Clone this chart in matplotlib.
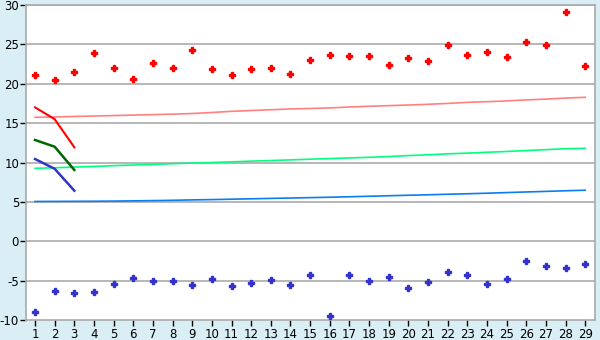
import matplotlib
matplotlib.use("Agg")
import matplotlib.pyplot as plt
import numpy as np

plt.rcParams["axes.unicode_minus"] = False

# x positions 1..29
x = list(range(1, 30))

upper_pts = [21.07, 20.43, 21.45, 23.86, 21.96, 20.56, 22.59, 21.96, 24.24, 21.83,
             21.07, 21.83, 21.96, 21.20, 22.97, 23.61, 23.48, 23.48, 22.34, 23.23,
             22.85, 24.88, 23.61, 23.99, 23.36, 25.26, 24.88, 29.07, 22.21]

lower_pts = [-9.02, -6.36, -6.61, -6.48, -5.47, -4.70, -5.09, -5.09, -5.60, -4.83,
             -5.72, -5.34, -4.96, -5.60, -4.32, -9.53, -4.32, -5.09, -4.58, -5.98,
             -5.21, -3.94, -4.32, -5.47, -4.83, -2.55, -3.18, -3.44, -2.93]

upper_trend = [15.74, 15.78, 15.85, 15.90, 15.96, 16.02, 16.08, 16.14, 16.22, 16.35,
               16.50, 16.60, 16.70, 16.80, 16.86, 16.93, 17.05, 17.14, 17.22, 17.30,
               17.39, 17.50, 17.64, 17.72, 17.82, 17.95, 18.05, 18.18, 18.28]

mid_trend = [9.26, 9.33, 9.42, 9.50, 9.60, 9.68, 9.75, 9.85, 9.93, 10.00,
             10.08, 10.17, 10.25, 10.33, 10.42, 10.50, 10.58, 10.66, 10.76, 10.88,
             10.98, 11.10, 11.19, 11.30, 11.40, 11.52, 11.63, 11.75, 11.80]

lower_trend = [5.05, 5.06, 5.07, 5.08, 5.10, 5.13, 5.16, 5.20, 5.25, 5.29,
               5.34, 5.39, 5.44, 5.49, 5.54, 5.59, 5.65, 5.71, 5.78, 5.84,
               5.90, 5.97, 6.03, 6.10, 6.18, 6.26, 6.33, 6.41, 6.48]

# short lines over the first three points
x_short = [1, 2, 3]
red_short = [17.0, 15.5, 11.93]
green_short = [12.86, 12.0, 9.05]
blue_short = [10.44, 9.2, 6.42]

bg = "#daeef5"
fig = plt.figure(figsize=(6, 3.4), dpi=100, facecolor=bg)
ax = fig.add_axes([26 / 600, 20 / 340, 569 / 600, 315 / 340])
ax.set_facecolor("white")

for y in range(-5, 31, 5):
    ax.axhline(y, color="#aaaaaa", lw=1.2, zorder=1)

ax.plot(x, upper_trend, color="#ff8080", lw=1.2, zorder=2)
ax.plot(x, mid_trend, color="#00ff80", lw=1.2, zorder=2)
ax.plot(x, lower_trend, color="#0a7df0", lw=1.2, zorder=2)

ax.plot(x_short, red_short, color="#ff0000", lw=1.5, zorder=3)
ax.plot(x_short, green_short, color="#006600", lw=1.8, zorder=3)
ax.plot(x_short, blue_short, color="#3333cc", lw=1.8, zorder=3)

ax.plot(x, upper_pts, ls="none", marker="P", ms=4.2, color="#ff0000",
        mec="#ff0000", zorder=4)
ax.plot(x, lower_pts, ls="none", marker="P", ms=4.2, color="#3333cc",
        mec="#3333cc", zorder=4)

ax.set_xlim(0.54, 29.5)
ax.set_ylim(-10, 30)
ax.set_xticks(x)
ax.set_yticks(range(-10, 31, 5))

for s in ax.spines.values():
    s.set_color("#aaaaaa")
    s.set_linewidth(1.2)

ax.tick_params(axis="both", direction="out", length=4, width=1, color="black",
               labelsize=8.5, labelcolor="black", pad=1)
ax.tick_params(axis="x", pad=1.5)

fig.savefig("out.png", dpi=100, facecolor=bg)
